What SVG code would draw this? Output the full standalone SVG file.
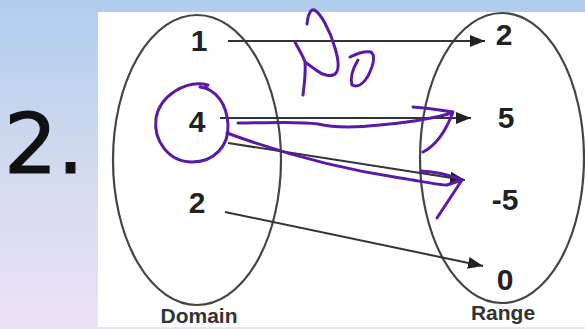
<svg xmlns="http://www.w3.org/2000/svg" width="585" height="329" viewBox="0 0 585 329">
<defs>
<linearGradient id="bg" x1="0" y1="0" x2="0" y2="1">
<stop offset="0" stop-color="#b0cdee"/>
<stop offset="0.5" stop-color="#d2daee"/>
<stop offset="1" stop-color="#ede2f4"/>
</linearGradient>
<marker id="ah" markerUnits="userSpaceOnUse" markerWidth="16" markerHeight="12" refX="15" refY="6" orient="auto">
<path d="M0,0 L15,6 L0,12 Z" fill="#222"/>
</marker>
<style>
.num{font-family:"Liberation Sans",Arial,sans-serif;font-weight:bold;font-size:30px;fill:#222;text-anchor:middle}
.lbl{font-family:"Liberation Sans",Arial,sans-serif;font-weight:bold;font-size:21px;fill:#333;text-anchor:middle}
.set{fill:none;stroke:#444;stroke-width:2.2}
.conn{stroke:#333;stroke-width:2;fill:none;marker-end:url(#ah)}
.ink{fill:none;stroke:#5a1aa8;stroke-width:3;stroke-linecap:round;stroke-linejoin:round}
</style>
</defs>
<rect x="0" y="0" width="585" height="329" fill="url(#bg)"/>
<rect x="98" y="12" width="487" height="315" fill="#ffffff"/>
<text x="44" y="173" font-family="DejaVu Sans, sans-serif" font-size="84" fill="#111" stroke="#111" stroke-width="1.2" text-anchor="middle">2.</text>
<g id="domain">
<ellipse class="set" cx="197" cy="160" rx="84" ry="145"/>
<text class="lbl" x="199" y="323">Domain</text>
</g>
<g id="range">
<ellipse class="set" cx="502" cy="158" rx="82" ry="145"/>
<text class="lbl" x="503" y="320">Range</text>
</g>
<g id="d1"><text class="num" x="199" y="51">1</text></g>
<g id="d4"><text class="num" x="197" y="132">4</text></g>
<g id="d2"><text class="num" x="197" y="213">2</text></g>
<g id="r2"><text class="num" x="504" y="45">2</text></g>
<g id="r5"><text class="num" x="506" y="128">5</text></g>
<g id="rm5"><text class="num" x="505" y="210">-5</text></g>
<g id="r0"><text class="num" x="505" y="290">0</text></g>
<g id="connectors">
<line class="conn" x1="228" y1="41" x2="485" y2="41"/>
<line class="conn" x1="220" y1="118" x2="471" y2="118"/>
<line class="conn" x1="228" y1="143" x2="465" y2="180"/>
<line class="conn" x1="225" y1="212" x2="483" y2="266"/>
</g>
<g id="ink">
<path class="ink" d="M208,89 C204,86 206,84 208,85 C186,79 160,96 156,118 C153,141 169,162 192,162 C214,162 229,146 228,125 C227,104 216,89 200,87"/>
<path class="ink" d="M238,123 C270,123 298,121 318,124 C335,128 352,128 380,125 C400,123 425,121 452,113 M413,107 C426,108 440,110 453,112 C447,128 437,145 423,152"/>
<path class="ink" d="M227,133 C300,160 360,172 400,178 C420,181 438,185 447,185 L462,180 C452,176 440,172 421,171 M462,180 L437,218"/>
<path class="ink" d="M295,42 C299,50 303,56 305,62 C306,75 304,85 303,95 M307,24 C308,14 311,9 314,10 C320,12 330,30 335,48 C338,58 340,68 336,73 C332,78 322,75 316,70 L305,62"/>
<path class="ink" d="M350,57 C358,53 366,51 371,52 C376,56 373,66 368,76 C364,83 358,88 352,85 C350,78 352,70 358,60"/>
</g>
</svg>
